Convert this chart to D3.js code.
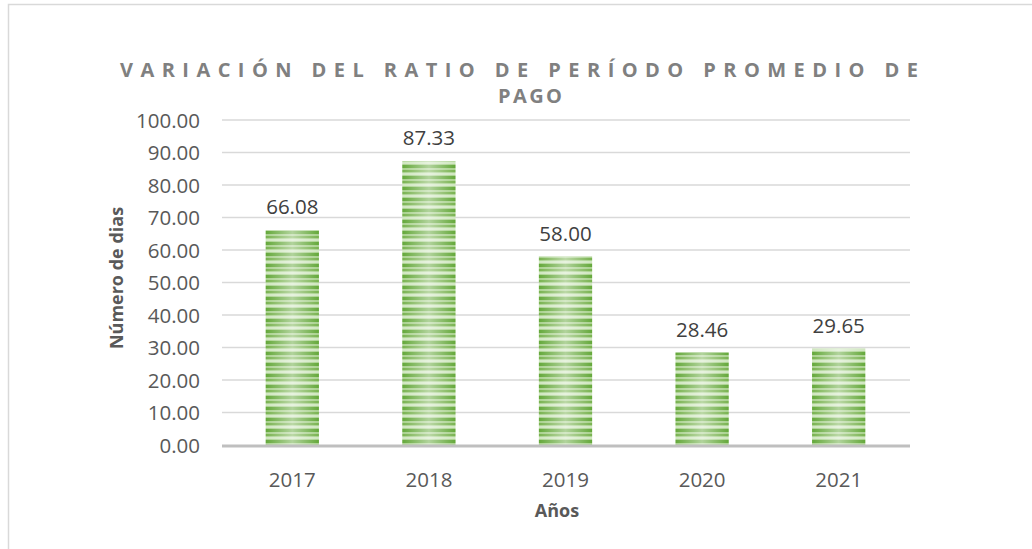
<!DOCTYPE html>
<html><head><meta charset="utf-8">
<script src="https://cdn.jsdelivr.net/npm/d3@7"></script>
<style>body{margin:0;background:#fff}svg{display:block}</style>
</head><body>
<svg id="c" width="1032" height="549"></svg>
<script>
const categories = ["2017","2018","2019","2020","2021"];
const values = [66.08, 87.33, 58.00, 28.46, 29.65];
const yTicks = [0,10,20,30,40,50,60,70,80,90,100];
const titleLines = ["VARIACIÓN DEL RATIO DE PERÍODO PROMEDIO DE","PAGO"];
const yTitle = "Número de dias";
const xTitle = "Años";

const svg = d3.select("#c");
const font = "'Open Sans', sans-serif";
svg.append("rect").attr("x",8.5).attr("y",4.5).attr("width",1040).attr("height",560)
  .attr("fill","#fff").attr("stroke","#d9d9d9").attr("stroke-width",1.5);

const defs = svg.append("defs");
const pat = defs.append("pattern").attr("id","stripes").attr("patternUnits","userSpaceOnUse")
  .attr("width",10).attr("height",11);
pat.append("rect").attr("width",10).attr("height",11).attr("fill","#a9d18e");
pat.append("rect").attr("y",0).attr("width",10).attr("height",3).attr("fill","#64a83a");
pat.append("rect").attr("y",5).attr("width",10).attr("height",2).attr("fill","#78b24f");
pat.append("rect").attr("y",8).attr("width",10).attr("height",2).attr("fill","#cfe6bf");
const grad = defs.append("linearGradient").attr("id","shine").attr("x1","0").attr("x2","1").attr("y1","0").attr("y2","0");
grad.append("stop").attr("offset","0").attr("stop-color","#fff").attr("stop-opacity",0);
grad.append("stop").attr("offset","0.5").attr("stop-color","#fff").attr("stop-opacity",0.5);
grad.append("stop").attr("offset","1").attr("stop-color","#fff").attr("stop-opacity",0);

const x = d3.scaleBand().domain(categories).range([224,907]).paddingInner(0.61).paddingOuter(0.305);
const y = d3.scaleLinear().domain([0,100]).range([445,120]);

// grid
svg.append("g").selectAll("line").data(yTicks.filter(d=>d>0)).join("line")
  .attr("x1",222).attr("x2",910).attr("y1",d=>y(d)).attr("y2",d=>y(d))
  .attr("stroke","#d9d9d9").attr("stroke-width",1.3);

// y labels
const yAxis = d3.axisLeft(y).tickValues(yTicks).tickFormat(d3.format(".2f")).tickSize(0).tickPadding(0);
const ya = svg.append("g").attr("transform","translate(200,0)").call(yAxis);
ya.select(".domain").remove();
ya.selectAll("text").attr("font-family",font).attr("font-size",20.5).attr("fill","#595959").attr("dy","0.36em");

// bars
const bars = svg.append("g");
bars.selectAll("rect.b").data(values).join("rect").attr("class","b")
  .attr("x",(d,i)=>x(categories[i])).attr("width",x.bandwidth())
  .attr("y",d=>y(d)).attr("height",d=>y(0)-y(d)).attr("fill","url(#stripes)");
bars.selectAll("rect.s").data(values).join("rect").attr("class","s")
  .attr("x",(d,i)=>x(categories[i])).attr("width",x.bandwidth())
  .attr("y",d=>y(d)).attr("height",d=>y(0)-y(d)).attr("fill","url(#shine)");

// labels
svg.append("g").selectAll("text").data(values).join("text")
  .attr("x",(d,i)=>x(categories[i])+x.bandwidth()/2).attr("y",d=>y(d)-16)
  .attr("text-anchor","middle").attr("font-family",font).attr("font-size",20.5).attr("fill","#404040")
  .text(d=>d3.format(".2f")(d));

// x axis
svg.append("line").attr("x1",222).attr("x2",910).attr("y1",y(0)+1).attr("y2",y(0)+1)
  .attr("stroke","#bfbfbf").attr("stroke-width",3);
const xa = svg.append("g").attr("transform","translate(0,"+(y(0))+")")
  .call(d3.axisBottom(x).tickSize(0).tickPadding(0));
xa.select(".domain").remove();
xa.selectAll("text").attr("font-family",font).attr("font-size",20.5).attr("fill","#595959")
  .attr("dy",null).attr("y",42);

// axis titles
svg.append("text").attr("x",557).attr("y",517).attr("text-anchor","middle")
  .attr("font-family",font).attr("font-weight","bold").attr("font-size",18).attr("fill","#595959").text(xTitle);
svg.append("text").attr("transform","translate(123,278) rotate(-90)").attr("text-anchor","middle")
  .attr("font-family",font).attr("font-weight","bold").attr("font-size",18).attr("fill","#595959").text(yTitle);

// title
svg.append("text").attr("x",120).attr("y",77)
  .attr("font-family",font).attr("font-weight","bold").attr("font-size",20).attr("fill","#808080")
  .attr("textLength",798).attr("lengthAdjust","spacing").text(titleLines[0]);
svg.append("text").attr("x",498).attr("y",103)
  .attr("font-family",font).attr("font-weight","bold").attr("font-size",20).attr("fill","#808080")
  .attr("textLength",64).attr("lengthAdjust","spacing").text(titleLines[1]);
</script>
</body></html>
